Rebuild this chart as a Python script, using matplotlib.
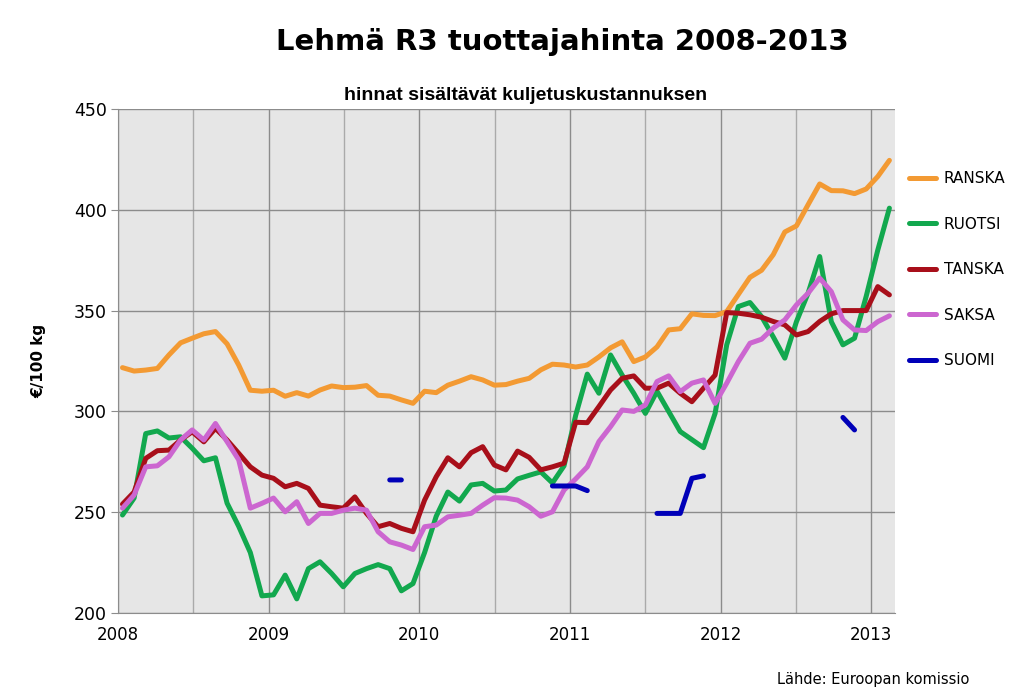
import numpy as np
import matplotlib
matplotlib.use('Agg')
import matplotlib.pyplot as plt

# Prices (EUR/100 kg), 4-weekly observations Jan 2008 - Feb 2013
ranska = [321.7, 320, 320.5, 321.3, 328, 334, 336.3, 338.5, 339.6, 333.5,
          323, 310.5, 310, 310.5, 307.5, 309.3, 307.6, 310.6, 312.6, 311.8,
          312, 312.8, 308, 307.6, 305.7, 304, 310, 309.3, 313, 315,
          317.2, 315.6, 313, 313.3, 315, 316.4, 320.6, 323.4, 323, 322,
          323, 327, 331.5, 334.5, 324.7, 327, 332, 340.4, 341, 348.4,
          347.6, 347.5, 349.5, 358, 366.5, 370, 377.7, 389, 392, 402.5,
          412.8, 409.5, 409.4, 408, 410.3, 416.5, 424.5]
ruotsi = [248.6, 257, 289, 290.3, 286.8, 287.4, 281.7, 275.5, 277, 254.5,
          243, 230, 208.5, 209, 218.8, 207, 222, 225.4, 219.6, 213,
          219.6, 222, 224, 222, 211, 214.6, 230, 248, 260, 255.5,
          263.5, 264.3, 260.5, 261, 266.5, 268.3, 270, 264.5, 273, 298,
          318.5, 309, 328, 318, 309, 299, 310, 300, 290, 286,
          282, 299, 333, 352, 354, 347, 337, 326.4, 344.5, 358.6,
          376.8, 344.5, 333, 336.3, 357, 380, 400.8]
tanska = [254, 260, 276.7, 280.5, 280.8, 285.8, 289.9, 284.9, 291.6, 285.8,
          279.2, 272.5, 268.4, 266.8, 262.6, 264.3, 261.8, 253.5, 252.7, 252,
          257.6, 249.4, 242.8, 244.4, 242, 240.3, 256, 267.6, 277, 272.5,
          279.5, 282.5, 273.4, 271, 280.3, 277.2, 271, 272.5, 274.3, 294.6,
          294.4, 302.4, 310.6, 316.4, 317.6, 311.5, 311.5, 314, 309, 304.8,
          311.5, 318, 349, 348.7, 347.9, 346.7, 344.6, 342.9, 337.9, 339.6,
          344.6, 348.4, 350, 350, 350, 361.9, 357.8]
saksa = [252, 258.5, 272.5, 273, 277.5, 285.8, 290.8, 285.8, 294, 285,
         276, 252, 254.4, 257, 250.2, 255.2, 244.4, 249.4, 249.4, 251,
         252, 251, 240.3, 235.3, 233.7, 231.5, 242.8, 243.6, 247.7, 248.5,
         249.4, 253.5, 257.2, 257, 256, 252.7, 248, 250.2, 261, 266.5,
         272.5, 285, 292.4, 300.7, 300, 303.2, 314.8, 317.6, 309.8, 314,
         315.6, 304, 314, 324.7, 333.8, 335.8, 341.3, 345.4, 352.8, 358.6,
         366.1, 359.4, 345.4, 340.4, 340.1, 344.5, 347.4]
nan = np.nan
suomi = [nan] * 23 + [266, 266] + [nan] * 12 + [263, 263, 263, 260.7] + \
        [nan] * 5 + [249.4, 249.4, 249.4, 266.8, 268] + [nan] * 11 + \
        [297, 290.8] + [nan] * 3

series = ['RANSKA', 'RUOTSI', 'TANSKA', 'SAKSA', 'SUOMI']
colors = ['#F39A33', '#12A84E', '#A80F1A', '#CC66D0', '#0000B8']
years = [2008, 2009, 2010, 2011, 2012, 2013]

# observation dates as fractional years
x = np.linspace(2008.03, 2013.12, len(ranska))

fig = plt.figure(figsize=(10.24, 6.94), dpi=100)
ax = fig.add_axes([0.1152, 0.1167, 0.874 - 0.1152, 0.843 - 0.1167])
ax.set_facecolor('#E6E6E6')

for name, vals, col in zip(series, [ranska, ruotsi, tanska, saksa, suomi], colors):
    ax.plot(x, vals, color=col, lw=3.6, label=name, solid_capstyle='round',
            solid_joinstyle='round')

ax.set_xlim(2008, 2013.157)
ax.set_ylim(200, 450)
ax.set_yticks(range(200, 451, 50))
ax.set_xticks(years)
ax.set_xticklabels([str(y) for y in years])
ax.set_xticks([y + 0.5 for y in years[:-1]], minor=True)

ax.grid(True, which='major', color='#8C8C8C', lw=1.0)
ax.grid(True, which='minor', axis='x', color='#AAAAAA', lw=1.0)
ax.set_axisbelow(True)

for s in ['top', 'right']:
    ax.spines[s].set_visible(False)
ax.spines['left'].set_color('#8C8C8C')
ax.spines['bottom'].set_color('#8C8C8C')
ax.tick_params(axis='y', length=5, color='#8C8C8C', labelsize=12.5, pad=3)
ax.tick_params(axis='x', which='both', length=0, labelsize=12, pad=9)

ax.set_ylabel('€/100 kg', fontsize=11, fontweight='bold', labelpad=20)

fig.text(0.549, 0.94, 'Lehmä R3 tuottajahinta 2008-2013', ha='center', va='center',
         fontsize=21, fontweight='bold')
fig.text(0.513, 0.862, 'hinnat sisältävät kuljetuskustannuksen', ha='center',
         va='center', fontsize=14, fontweight='bold', family='Liberation Sans')
fig.text(0.947, 0.021, 'Lähde: Euroopan komissio', ha='right', va='center',
         fontsize=10.5)

ax.legend(loc='upper left', bbox_to_anchor=(1.010, 0.889), frameon=False,
          fontsize=11, handlelength=1.77, handletextpad=0.52, labelspacing=2.0,
          borderaxespad=0)

plt.savefig('out.png', dpi=100)
